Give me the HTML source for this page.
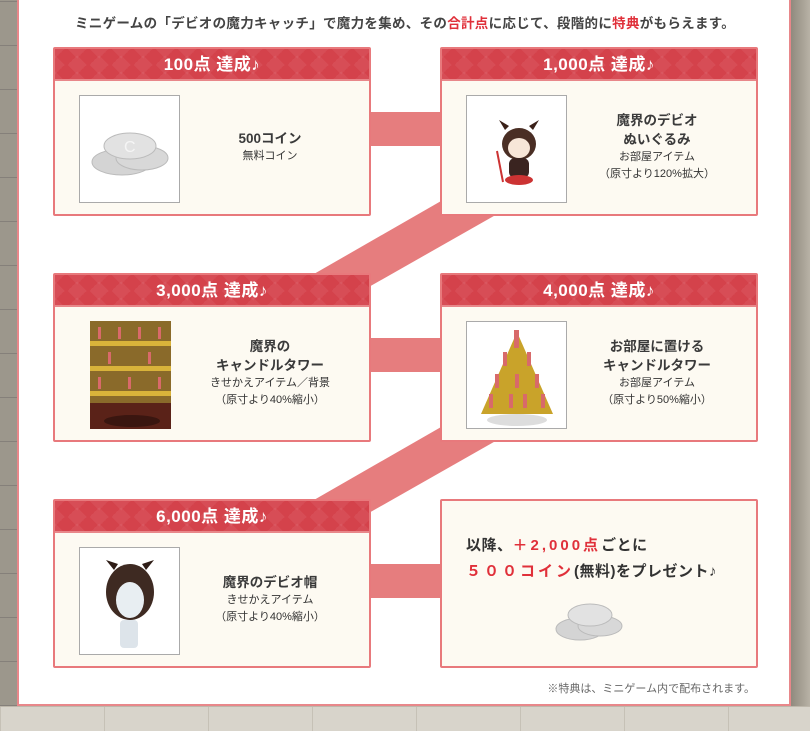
<!DOCTYPE html>
<html><head><meta charset="utf-8">
<style>
*{margin:0;padding:0;box-sizing:border-box}
body{width:810px;height:731px;overflow:hidden;position:relative;background:#cfcac0;font-family:"Liberation Sans","Noto Sans CJK JP",sans-serif;color:#3a3a3a}
.rw{position:absolute;left:790px;top:0;width:20px;height:706px;background:linear-gradient(90deg,#8e887c,#b8b2a6)}
.lw{position:absolute;left:0;top:0;width:18px;height:706px;background:repeating-linear-gradient(0deg,#85807a 0 1px,#9c978c 1px 44px)}
.bw{position:absolute;left:0;top:706px;width:810px;height:25px;background:repeating-linear-gradient(90deg,#c6c1b6 0 1px,#d8d4cb 1px 104px);border-top:1px solid #bdb7ab}
.panel{position:absolute;left:17px;top:0;width:774px;height:706px;background:#fff;border-left:2px solid #e8878a;border-right:2px solid #e8878a;border-bottom:2px solid #e8878a}
.title{position:absolute;left:0;top:12px;width:810px;text-align:center;font-size:13.5px;font-weight:bold;color:#444;letter-spacing:0.3px}
.red{color:#e0303a}
.box{position:absolute;width:318px;height:169px;border:2px solid #e8797c;background:#fdfaf2;border-radius:2px}
.hd{height:32px;background-color:#d4424b;background-image:linear-gradient(45deg,rgba(255,255,255,.06) 25%,transparent 25%,transparent 75%,rgba(255,255,255,.06) 75%),linear-gradient(-45deg,rgba(255,255,255,.06) 25%,transparent 25%,transparent 75%,rgba(255,255,255,.06) 75%);background-size:22px 16px;color:#fff;font-weight:bold;font-size:17px;letter-spacing:0.5px;text-align:center;line-height:31px;border-bottom:2px solid #e8878a}
.img{position:absolute;left:24px;top:46px;width:101px;height:108px;border:1px solid #aaa;background:#fff;overflow:hidden}
.txt{position:absolute;left:130px;top:0;width:170px;text-align:center}
.n{font-size:13.5px;font-weight:bold;color:#3a3a3a;line-height:19px}
.s{font-size:11px;color:#333;line-height:17px}
.bar{position:absolute;left:370px;width:70px;height:34px;background:#e67d7e}
</style></head><body>
<div class="lw"></div><div class="rw"></div><div class="bw"></div>
<div class="panel"></div>
<div class="title">ミニゲームの「デビオの魔力キャッチ」で魔力を集め、その<span class="red">合計点</span>に応じて、段階的に<span class="red">特典</span>がもらえます。</div>

<svg style="position:absolute;left:0;top:0" width="810" height="731">
<polygon points="455,193 515,204 360,292 300,282" fill="#e67d7e"/>
<polygon points="455,419 515,430 360,518 300,508" fill="#e67d7e"/>
</svg>
<div class="bar" style="top:112px"></div>
<div class="bar" style="top:338px"></div>
<div class="bar" style="top:564px"></div>

<div class="box" style="left:53px;top:47px"><div class="hd">100点 達成♪</div>
<div class="img"><svg width="101" height="108"><ellipse cx="42" cy="66" rx="30" ry="13" fill="#d4d4d4" stroke="#bbb"/><ellipse cx="62" cy="62" rx="26" ry="12" fill="#d8d8d8" stroke="#bbb"/><ellipse cx="50" cy="50" rx="26" ry="13" fill="#e2e2e2" stroke="#bbb"/><text x="44" y="56" font-size="16" fill="#f5f5f5" font-family="Liberation Sans">C</text></svg></div>
<div class="txt" style="top:80px"><div class="n">500コイン</div><div class="s">無料コイン</div></div></div>

<div class="box" style="left:440px;top:47px"><div class="hd">1,000点 達成♪</div>
<div class="img"><svg width="101" height="108"><ellipse cx="52" cy="48" rx="17" ry="16" fill="#4a2e24"/><ellipse cx="52" cy="52" rx="11" ry="10" fill="#f7e6d8"/><path d="M38 34l-6-10 10 6zM66 34l6-10-10 6z" fill="#3a2018"/><rect x="42" y="62" width="20" height="20" rx="6" fill="#3a2420"/><ellipse cx="52" cy="84" rx="14" ry="5" fill="#c33"/><line x1="30" y1="55" x2="36" y2="86" stroke="#c33" stroke-width="2"/></svg></div>
<div class="txt" style="top:62px"><div class="n">魔界のデビオ</div><div class="n">ぬいぐるみ</div><div class="s">お部屋アイテム</div><div class="s">（原寸より120%拡大）</div></div></div>

<div class="box" style="left:53px;top:273px"><div class="hd">3,000点 達成♪</div>
<div class="img" style="border:none;left:35px;width:81px"><svg width="81" height="110"><rect width="81" height="110" fill="#6a4a20"/><rect y="0" width="81" height="82" fill="#8a6a2a"/><g fill="#d9b33a"><rect x="0" y="20" width="81" height="5"/><rect x="0" y="45" width="81" height="5"/><rect x="0" y="70" width="81" height="5"/></g><g fill="#d86a6a"><rect x="8" y="6" width="3" height="12"/><rect x="28" y="6" width="3" height="12"/><rect x="48" y="6" width="3" height="12"/><rect x="68" y="6" width="3" height="12"/><rect x="18" y="31" width="3" height="12"/><rect x="58" y="31" width="3" height="12"/><rect x="8" y="56" width="3" height="12"/><rect x="38" y="56" width="3" height="12"/><rect x="68" y="56" width="3" height="12"/></g><rect y="82" width="81" height="28" fill="#5a2218"/><ellipse cx="42" cy="100" rx="28" ry="6" fill="#3a1610"/></svg></div>
<div class="txt" style="top:62px"><div class="n">魔界の</div><div class="n">キャンドルタワー</div><div class="s">きせかえアイテム／背景</div><div class="s">（原寸より40%縮小）</div></div></div>

<div class="box" style="left:440px;top:273px"><div class="hd">4,000点 達成♪</div>
<div class="img"><svg width="101" height="108"><ellipse cx="50" cy="98" rx="30" ry="6" fill="#ddd"/><polygon points="50,10 86,92 14,92" fill="#c9a32a"/><g fill="#d86a6a"><rect x="47" y="8" width="5" height="18"/><rect x="36" y="30" width="4" height="14"/><rect x="60" y="30" width="4" height="14"/><rect x="28" y="52" width="4" height="14"/><rect x="68" y="52" width="4" height="14"/><rect x="48" y="52" width="4" height="14"/><rect x="22" y="72" width="4" height="14"/><rect x="74" y="72" width="4" height="14"/><rect x="42" y="72" width="4" height="14"/><rect x="56" y="72" width="4" height="14"/></g></svg></div>
<div class="txt" style="top:62px"><div class="n">お部屋に置ける</div><div class="n">キャンドルタワー</div><div class="s">お部屋アイテム</div><div class="s">（原寸より50%縮小）</div></div></div>

<div class="box" style="left:53px;top:499px"><div class="hd">6,000点 達成♪</div>
<div class="img"><svg width="101" height="108"><ellipse cx="50" cy="44" rx="24" ry="28" fill="#3e2a22"/><ellipse cx="50" cy="52" rx="14" ry="18" fill="#e8eef2"/><path d="M34 22l-8-10 12 4zM66 22l8-10-12 4z" fill="#2e1c16"/><rect x="40" y="72" width="18" height="28" rx="4" fill="#dde4ea"/></svg></div>
<div class="txt" style="top:72px"><div class="n">魔界のデビオ帽</div><div class="s">きせかえアイテム</div><div class="s">（原寸より40%縮小）</div></div></div>

<div class="box" style="left:440px;top:499px">
<div style="position:absolute;left:24px;top:32px;font-size:15px;font-weight:bold;line-height:26px;color:#333;letter-spacing:0.5px">以降、<span class="red" style="letter-spacing:3px">＋2,000点</span>ごとに<br><span class="red" style="letter-spacing:3px">５００コイン</span>(無料)をプレゼント♪</div>
<svg style="position:absolute;left:110px;top:92px" width="80" height="60"><ellipse cx="28" cy="36" rx="24" ry="11" fill="#d4d4d4" stroke="#bbb"/><ellipse cx="48" cy="33" rx="22" ry="10" fill="#d8d8d8" stroke="#bbb"/><ellipse cx="38" cy="22" rx="22" ry="11" fill="#e2e2e2" stroke="#bbb"/></svg>
</div>
<div style="position:absolute;left:430px;top:680px;width:325px;text-align:right;font-size:11px;color:#666">※特典は、ミニゲーム内で配布されます。</div>
</body></html>
